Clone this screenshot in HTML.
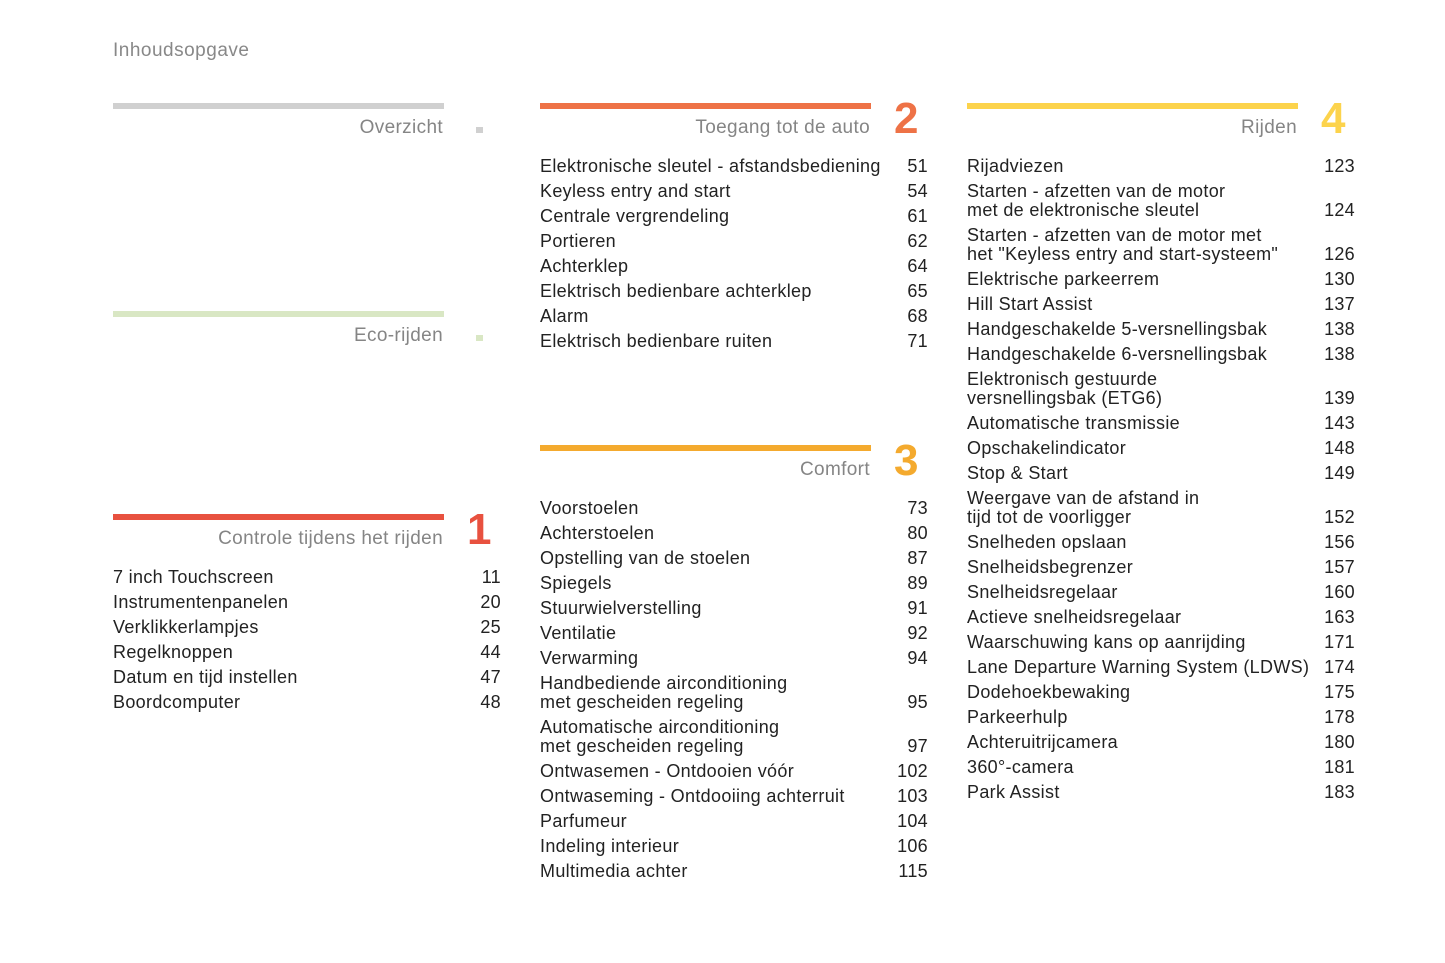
<!DOCTYPE html>
<html><head><meta charset="utf-8">
<style>
html,body{margin:0;padding:0;background:#fff;}
body{width:1445px;height:963px;position:relative;overflow:hidden;font-family:"Liberation Sans",sans-serif;}
.t{position:absolute;font-size:18px;line-height:20px;color:#222;white-space:nowrap;letter-spacing:0.33px;}
.n{position:absolute;font-size:18px;line-height:20px;color:#222;text-align:right;width:60px;letter-spacing:0.3px;}
.bar{position:absolute;height:6px;width:331px;}
.h{position:absolute;font-size:19px;line-height:22px;color:#858585;text-align:right;width:331px;letter-spacing:0.35px;}
.big{position:absolute;font-size:44px;font-weight:bold;line-height:44px;}
</style></head><body>
<div style="position:absolute;left:113px;top:40px;font-size:19px;letter-spacing:0.5px;color:#888;">Inhoudsopgave</div>
<script>
const sections=[
 {name:'Overzicht',x:113,y:103,color:'#d0d0d0',mark:'sq',entries:[]},
 {name:'Eco-rijden',x:113,y:311,color:'#d9e7c4',mark:'sq',entries:[]},
 {name:'Controle tijdens het rijden',x:113,y:514,color:'#e8513f',mark:'1',entries:[
  ['7 inch Touchscreen','11'],['Instrumentenpanelen','20'],['Verklikkerlampjes','25'],['Regelknoppen','44'],['Datum en tijd instellen','47'],['Boordcomputer','48']]},
 {name:'Toegang tot de auto',x:540,y:103,color:'#ee7246',mark:'2',entries:[
  ['Elektronische sleutel - afstandsbediening','51'],['Keyless entry and start','54'],['Centrale vergrendeling','61'],['Portieren','62'],['Achterklep','64'],['Elektrisch bedienbare achterklep','65'],['Alarm','68'],['Elektrisch bedienbare ruiten','71']]},
 {name:'Comfort',x:540,y:445,color:'#f4aa2e',mark:'3',entries:[
  ['Voorstoelen','73'],['Achterstoelen','80'],['Opstelling van de stoelen','87'],['Spiegels','89'],['Stuurwielverstelling','91'],['Ventilatie','92'],['Verwarming','94'],['Handbediende airconditioning|met gescheiden regeling','95'],['Automatische airconditioning|met gescheiden regeling','97'],['Ontwasemen - Ontdooien vóór','102'],['Ontwaseming - Ontdooiing achterruit','103'],['Parfumeur','104'],['Indeling interieur','106'],['Multimedia achter','115']]},
 {name:'Rijden',x:967,y:103,color:'#fcd34c',mark:'4',entries:[
  ['Rijadviezen','123'],['Starten - afzetten van de motor|met de elektronische sleutel','124'],['Starten - afzetten van de motor met|het "Keyless entry and start-systeem"','126'],['Elektrische parkeerrem','130'],['Hill Start Assist','137'],['Handgeschakelde 5-versnellingsbak','138'],['Handgeschakelde 6-versnellingsbak','138'],['Elektronisch gestuurde|versnellingsbak (ETG6)','139'],['Automatische transmissie','143'],['Opschakelindicator','148'],['Stop & Start','149'],['Weergave van de afstand in|tijd tot de voorligger','152'],['Snelheden opslaan','156'],['Snelheidsbegrenzer','157'],['Snelheidsregelaar','160'],['Actieve snelheidsregelaar','163'],['Waarschuwing kans op aanrijding','171'],['Lane Departure Warning System (LDWS)','174'],['Dodehoekbewaking','175'],['Parkeerhulp','178'],['Achteruitrijcamera','180'],['360°-camera','181'],['Park Assist','183']]}
];
function mk(cls,css,txt){const d=document.createElement('div');d.className=cls;d.style.cssText=css;if(txt!==undefined)d.textContent=txt;document.body.appendChild(d);return d;}
sections.forEach(s=>{
 const b=mk('bar',`left:${s.x}px;top:${s.y}px;background:${s.color}`);
 
 
 const h=mk('h',`left:${s.x-1}px;top:${s.y+14}px`,s.name);
 
 
 let m;
 if(s.mark==='sq'){m=mk('',`position:absolute;left:${s.x+363}px;top:${s.y+24}px;width:7px;height:6px;background:${s.color}`);}
 else{m=mk('big',`left:${s.x+354}px;top:${s.y-6}px;color:${s.color}`,s.mark);}
 
 
 let y=s.y+53;
 s.entries.forEach(e=>{
  const lines=e[0].split('|');
  lines.forEach((ln,i)=>{
   const t=mk('t',`left:${s.x}px;top:${y+i*19}px`,ln);
   
   
  });
  const ny=y+(lines.length-1)*19;
  const n=mk('n',`left:${s.x+328}px;top:${ny}px`,e[1]);
  
  
  y=ny+25;
 });
});
</script>
</body></html>
